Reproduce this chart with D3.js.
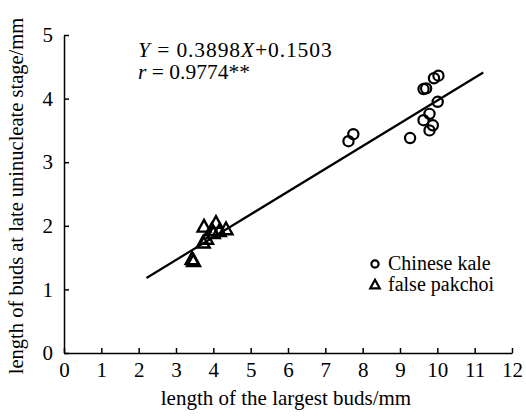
<!DOCTYPE html>
<html><head><meta charset="utf-8">
<script src="https://cdn.jsdelivr.net/npm/d3@7"></script>
<style>body{margin:0;background:#fff}svg{display:block}text{font-family:"Liberation Serif","Times New Roman",serif;fill:#000}</style>
</head><body>
<script>
const xTicks=[0,1,2,3,4,5,6,7,8,9,10,11,12];
const yTicks=[0,1,2,3,4,5];
const kaleX=[9.27,10.03,9.91,9.70,9.63,10.01,9.79,9.63,9.88,9.79,7.75,7.62];
const kaleY=[3.38,4.36,4.32,4.16,4.15,3.95,3.76,3.66,3.58,3.50,3.44,3.33];
const pakX=[3.43,3.47,4.07,3.75,3.96,4.34,4.16,3.82,3.73,4.00];
const pakY=[1.47,1.44,2.04,1.98,1.93,1.94,1.91,1.79,1.73,1.88];
const fitX=[2.21,11.23];
const fitY=[1.18,4.41];
const seriesNames=["Chinese kale","false pakchoi"];

const W=526,H=418;
const svg=d3.select("body").append("svg").attr("width",W).attr("height",H);
const x=d3.scaleLinear().domain([0,12]).range([64,512]);
const y=d3.scaleLinear().domain([0,5]).range([353,35]);

const xa=svg.append("g").attr("transform","translate(0,353)")
 .call(d3.axisBottom(x).tickValues(xTicks).tickFormat(d3.format("d")).tickSize(-5).tickPadding(9).tickSizeOuter(0));
const ya=svg.append("g").attr("transform","translate(64,0)")
 .call(d3.axisLeft(y).tickValues(yTicks).tickFormat(d3.format("d")).tickSize(-5).tickPadding(11).tickSizeOuter(0));
[xa,ya].forEach(a=>{a.attr("font-family","Liberation Serif").attr("font-size",21);
 a.selectAll("path,line").attr("stroke","#000").attr("stroke-width",1.5);
 a.selectAll("text").attr("fill","#000");});

// fit line
svg.append("line").attr("x1",x(fitX[0])).attr("y1",y(fitY[0])).attr("x2",x(fitX[1])).attr("y2",y(fitY[1]))
 .attr("stroke","#000").attr("stroke-width",2.2);

// circles
svg.append("g").selectAll("circle").data(kaleX.map((d,i)=>[d,kaleY[i]])).join("circle")
 .attr("cx",d=>x(d[0])).attr("cy",d=>y(d[1])).attr("r",5.1)
 .attr("fill","none").attr("stroke","#000").attr("stroke-width",2.2);

const tri=(s)=>`M0,${-s*0.62}L${s*0.56},${s*0.4}L${-s*0.56},${s*0.4}Z`;
svg.append("g").selectAll("path").data(pakX.map((d,i)=>[d,pakY[i]])).join("path")
 .attr("d",tri(11.5)).attr("transform",d=>`translate(${x(d[0])},${y(d[1])})`)
 .attr("fill","none").attr("stroke","#000").attr("stroke-width",2.4).attr("stroke-linejoin","miter");

// legend
svg.append("circle").attr("cx",375).attr("cy",264).attr("r",3.6).attr("fill","none").attr("stroke","#000").attr("stroke-width",2.2);
svg.append("path").attr("d",tri(8.5)).attr("transform","translate(375,285)").attr("fill","none").attr("stroke","#000").attr("stroke-width",2.2);
svg.append("text").attr("x",388).attr("y",270).style("font-size","20px").text(seriesNames[0]);
svg.append("text").attr("x",388).attr("y",291).style("font-size","20px").text(seriesNames[1]);

// equation
const eq=svg.append("text").attr("x",138).attr("y",56.5).style("font-size","21.5px").style("letter-spacing","0.9px");
eq.append("tspan").style("font-style","italic").text("Y");
eq.append("tspan").text(" = 0.3898");
eq.append("tspan").style("font-style","italic").text("X");
eq.append("tspan").text("+0.1503");
const eq2=svg.append("text").attr("x",138).attr("y",78.5).style("font-size","21.5px");
eq2.append("tspan").style("font-style","italic").text("r");
eq2.append("tspan").text(" = 0.9774**");

// axis titles
svg.append("text").attr("x",286).attr("y",405).attr("text-anchor","middle").style("font-size","21px").text("length of the largest buds/mm");
svg.append("text").attr("transform","translate(23,196) rotate(-90)").attr("text-anchor","middle").style("font-size","20.5px").text("length of buds at late uninucleate stage/mm");
</script>
</body></html>
